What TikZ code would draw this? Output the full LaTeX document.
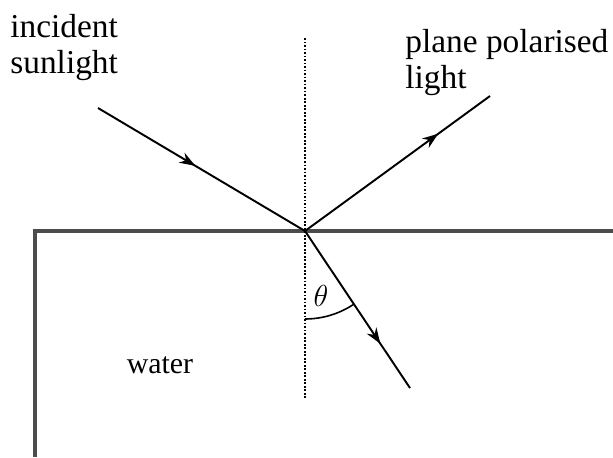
\documentclass[tikz,border=0pt]{standalone}
\usepackage{amsmath}
\usepackage{fontspec}
\setmainfont{Liberation Serif}
\usetikzlibrary{arrows,arrows.meta,positioning,decorations.markings}

\tikzset{
    ray/.style={line width=1.1pt,postaction={decorate},
        decoration={markings,mark=at position #1 with {\arrow{Stealth[length=9pt,width=6.5pt]}}}},
    label/.style={font=\fontsize{19}{20}\selectfont,align=left,inner sep=0pt}
}

\begin{document}
\begin{tikzpicture}
    \useasboundingbox (0,0) rectangle (12.26,9.14);

    % Water surface
    \coordinate (o) at (6.10,4.52);
    \draw[gray!60!black,line width=1.8pt] (0.70,0) -- (0.70,4.52) -- (12.26,4.52);

    % Normal
    \coordinate (ntop) at (6.10,8.38);
    \coordinate (nbot) at (6.10,1.18);
    \draw[densely dotted,line width=1pt] (ntop) -- (nbot);

    % Rays
    \coordinate (src) at (1.96,6.98);
    \coordinate (refl) at (9.80,7.22);
    \coordinate (refr) at (8.20,1.38);
    \draw[ray=0.47] (src) -- (o);
    \draw[ray=0.72] (o) -- (refl);
    \draw[ray=0.72] (o) -- (refr);

    % Angle
    \draw[line width=0.9pt] ([shift={(-90:1.76)}]o) arc (-90:-56.2:1.76);
    \node (theta) at (6.42,3.22) {\fontsize{17}{18}\selectfont$\theta$};

    % Labels
    \node[label,anchor=west] (incident) at (0.2,8.19) {incident\\sunlight};
    \node[label,anchor=west] (polar) at (8.10,7.89) {plane polarised\\light};
    \node[label,font=\fontsize{17}{18}\selectfont] (water) at (3.20,1.84) {water};
\end{tikzpicture}
\end{document}
